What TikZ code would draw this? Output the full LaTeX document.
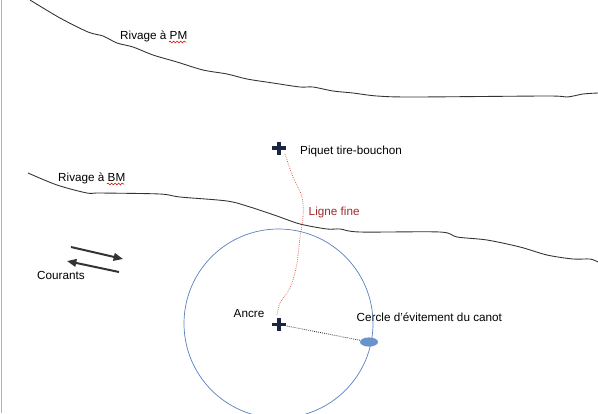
\documentclass[tikz,border=0pt]{standalone}
\usepackage{fontspec}
\setmainfont{Liberation Sans}
\usetikzlibrary{arrows.meta,decorations.pathmorphing}
\definecolor{shore}{HTML}{333333}
\definecolor{circblue}{HTML}{5A80BE}
\definecolor{boatblue}{HTML}{6A93CC}
\definecolor{ropered}{HTML}{E4473F}
\definecolor{labelred}{HTML}{A0282D}
\definecolor{plusnavy}{HTML}{1B2642}
\tikzset{
  shoreline/.style={shore, line width=0.75pt},
  lbl/.style={inner sep=0pt, anchor=base west, font=\fontsize{10pt}{12pt}\selectfont, text=black},
  plusmark/.style={plusnavy, line width=2.6pt},
  currarrow/.style={draw=shore, line width=1.7pt, -{Triangle[length=8pt,width=6.5pt]}},
  squiggle/.style={red!85!black, line width=0.5pt, decorate, decoration={snake, amplitude=0.8pt, segment length=3pt}}
}
\begin{document}
\begin{tikzpicture}[x=0.03cm, y=-0.03cm]
\useasboundingbox (0,0) rectangle (598,413);
\draw[gray!60, line width=0.6pt] (1,0) -- (1,413);
% shores
\draw[shoreline] plot[smooth, tension=0.5] coordinates {(30,0) (60,18) (88,32) (103,36) (117,43) (133,47) (153,55) (177,62) (203,70) (227,74) (247,79) (273,83) (300,87) (313,87) (333,91) (353,93) (377,96) (413,97) (547,96) (567,97) (583,94) (598,93)};
\draw[shoreline] plot[smooth, tension=0.5] coordinates {(28,173) (57,185) (87,193) (100,193) (160,194) (180,197) (227,201) (250,207) (277,216) (300,224) (327,229) (340,229) (360,232) (440,232) (457,237) (487,240) (520,247) (547,255) (573,259) (590,259) (598,262)};
% labels
\node[lbl] (pm) at (120,39) {Rivage à PM};
\node[lbl] (bm) at (58,181) {Rivage à BM};
\draw[squiggle] (169,42) -- (186,42);
\draw[squiggle] (107,184) -- (124,184);
\node[lbl] (piqlbl) at (300,154) {Piquet tire-bouchon};
\node[lbl, text=labelred] (lf) at (308.5,215) {Ligne fine};
\node[lbl] (cour) at (37,279) {Courants};
\node[lbl] (anclbl) at (233.5,317) {Ancre};
\node[lbl] (cerc) at (356.5,321) {Cercle d'évitement du canot};
% points
\coordinate (piquet) at (279,148);
\coordinate (ancre) at (279,324.5);
\coordinate (ropeend) at (277,315);
\coordinate (boat) at (369,342);
% swing circle
\draw[circblue, line width=0.6pt] (278.5,323.5) circle (94.5);
% rope
\draw[ropered, line width=0.6pt, densely dotted] (piquet) plot[smooth, tension=0.6] coordinates {(285,154) (293,177) (302,197) (303,217) (300,237) (297,263) (292,283) (287,293) (280,303) (ropeend)};
% boat line
\draw[shore, line width=0.7pt, densely dotted] (ancre) -- (boat);
\fill[boatblue] (boat) ellipse [x radius=9, y radius=4.6];
% plus marks
\draw[plusmark] (piquet) ++(-7,0) -- ++(14,0) (piquet) ++(0,-6.5) -- ++(0,13);
\draw[plusmark] (ancre) ++(-7,0) -- ++(14,0) (ancre) ++(0,-6.5) -- ++(0,13);
% currents
\coordinate (c1a) at (71,247);
\coordinate (c1b) at (123,259);
\coordinate (c2a) at (119,272);
\coordinate (c2b) at (67,261);
\draw[currarrow] (c1a) -- (c1b);
\draw[currarrow] (c2a) -- (c2b);
\end{tikzpicture}
\end{document}
